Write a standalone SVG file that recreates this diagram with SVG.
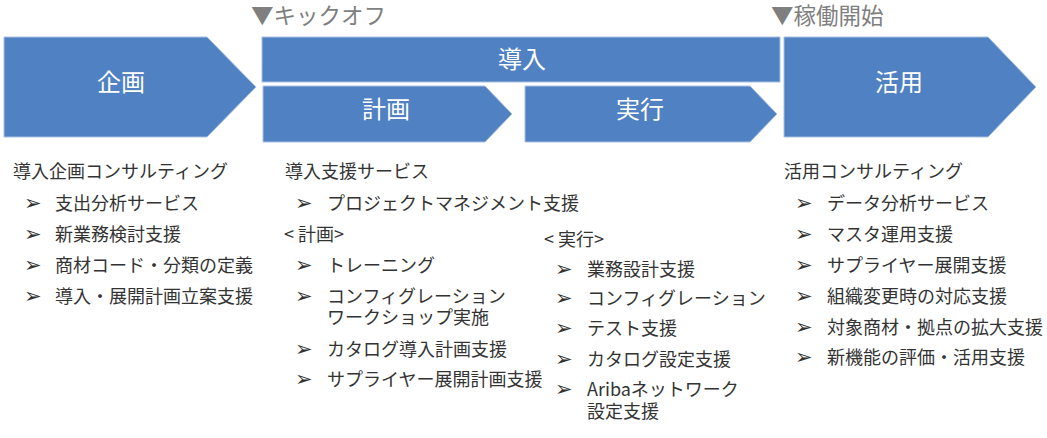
<svg xmlns="http://www.w3.org/2000/svg" width="1047" height="438" viewBox="0 0 1047 438">
<style>
.sh{fill:#4f81c3;stroke:#a9c0e2;stroke-width:1}
.ttl{font-family:"Noto Sans CJK JP","Noto Sans",sans-serif;font-size:24px;fill:#ffffff;text-anchor:middle}
.mk{font-family:"Noto Sans CJK JP","Noto Sans",sans-serif;font-size:22.5px;fill:#7f7f7f}
.t{font-family:"Noto Sans CJK JP","Noto Sans",sans-serif;font-size:18px;fill:#333333}
.b{font-family:"DejaVu Sans","Noto Sans CJK JP",sans-serif;font-size:21px;fill:#333333}
</style>
<rect width="1047" height="438" fill="#ffffff"/>
<g id="marker-kickoff"><text class="mk" x="251" y="24">▼キックオフ</text></g>
<g id="marker-golive"><text class="mk" x="771" y="24">▼稼働開始</text></g>
<g id="node-kikaku">
<polygon class="sh" points="4,37 207,37 256,87 207,137 4,137"/>
<text class="ttl" x="121" y="91">企画</text>
</g>
<g id="node-dounyu">
<rect class="sh" x="262" y="37" width="518" height="45"/>
<text class="ttl" x="522" y="68">導入</text>
</g>
<g id="node-keikaku">
<polygon class="sh" points="263,86 485,86 512,114 485,142 263,142"/>
<text class="ttl" x="386" y="118">計画</text>
</g>
<g id="node-jikko">
<polygon class="sh" points="525,86 750,86 777,114 750,142 525,142"/>
<text class="ttl" x="640" y="118">実行</text>
</g>
<g id="node-katsuyo">
<polygon class="sh" points="784,37 988,37 1036,87 988,137 784,137"/>
<text class="ttl" x="899" y="91">活用</text>
</g>
<g id="connectors"></g>
<g id="list-kikaku">
<text class="t" x="13" y="178">導入企画コンサルティング</text>
<text class="b" x="24" y="210">➢</text><text class="t" x="55" y="210">支出分析サービス</text>
<text class="b" x="24" y="241">➢</text><text class="t" x="55" y="241">新業務検討支援</text>
<text class="b" x="24" y="272">➢</text><text class="t" x="55" y="272">商材コード・分類の定義</text>
<text class="b" x="24" y="303">➢</text><text class="t" x="55" y="303">導入・展開計画立案支援</text>
</g>
<g id="list-dounyu">
<text class="t" x="285" y="178">導入支援サービス</text>
<text class="b" x="295" y="210">➢</text><text class="t" x="327" y="210">プロジェクトマネジメント支援</text>
<text class="t" x="284" y="241">&lt; 計画&gt;</text>
<text class="b" x="295" y="272">➢</text><text class="t" x="327" y="272">トレーニング</text>
<text class="b" x="295" y="303">➢</text><text class="t" x="327" y="303">コンフィグレーション<tspan x="327" dy="21">ワークショップ実施</tspan></text>
<text class="b" x="295" y="356">➢</text><text class="t" x="327" y="356">カタログ導入計画支援</text>
<text class="b" x="295" y="386">➢</text><text class="t" x="327" y="386">サプライヤー展開計画支援</text>
</g>
<g id="list-jikko">
<text class="t" x="544" y="246">&lt; 実行&gt;</text>
<text class="b" x="555" y="276">➢</text><text class="t" x="587" y="276">業務設計支援</text>
<text class="b" x="555" y="305">➢</text><text class="t" x="587" y="305">コンフィグレーション</text>
<text class="b" x="555" y="335">➢</text><text class="t" x="587" y="335">テスト支援</text>
<text class="b" x="555" y="366">➢</text><text class="t" x="587" y="366">カタログ設定支援</text>
<text class="b" x="555" y="396">➢</text><text class="t" x="587" y="396">Aribaネットワーク<tspan x="587" dy="22">設定支援</tspan></text>
</g>
<g id="list-katsuyo">
<text class="t" x="784" y="178">活用コンサルティング</text>
<text class="b" x="795" y="210">➢</text><text class="t" x="827" y="210">データ分析サービス</text>
<text class="b" x="795" y="241">➢</text><text class="t" x="827" y="241">マスタ運用支援</text>
<text class="b" x="795" y="272">➢</text><text class="t" x="827" y="272">サプライヤー展開支援</text>
<text class="b" x="795" y="303">➢</text><text class="t" x="827" y="303">組織変更時の対応支援</text>
<text class="b" x="795" y="334">➢</text><text class="t" x="827" y="334">対象商材・拠点の拡大支援</text>
<text class="b" x="795" y="364">➢</text><text class="t" x="827" y="364">新機能の評価・活用支援</text>
</g>
</svg>
